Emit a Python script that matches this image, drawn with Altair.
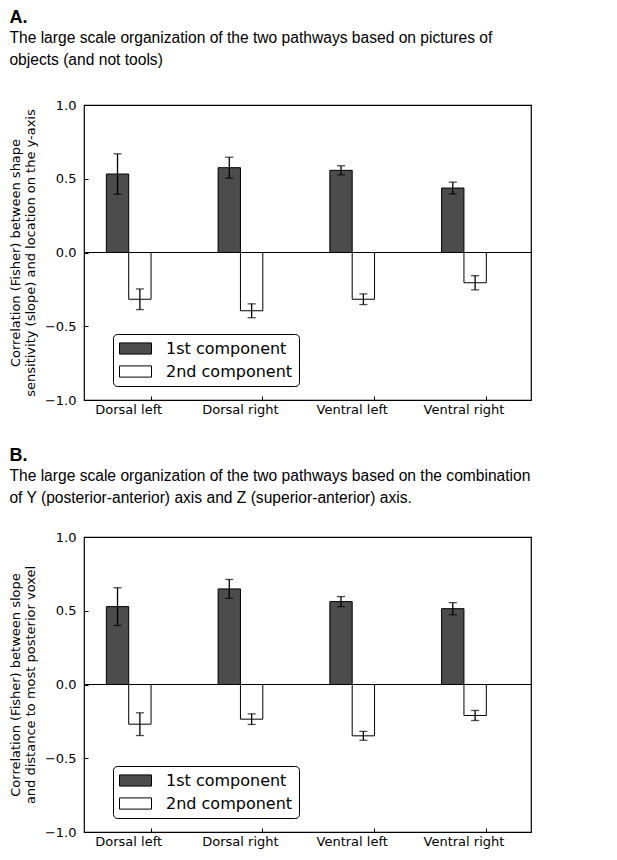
import altair as alt
import pandas as pd

categories = ["Dorsal left", "Dorsal right", "Ventral left", "Ventral right"]
components = ["1st component", "2nd component"]

# Panel A values
a_first = [0.532, 0.575, 0.557, 0.437]
a_first_err = [0.137, 0.071, 0.031, 0.040]
a_second = [-0.317, -0.395, -0.317, -0.205]
a_second_err = [0.070, 0.047, 0.036, 0.048]

# Panel B values
b_first = [0.528, 0.648, 0.562, 0.514]
b_first_err = [0.128, 0.064, 0.034, 0.041]
b_second = [-0.269, -0.235, -0.348, -0.210]
b_second_err = [0.077, 0.036, 0.030, 0.034]

y_ticks = [-1.0, -0.5, 0.0, 0.5, 1.0]

title_a = "A."
subtitle_a = ["The large scale organization of the two pathways based on pictures of",
              "objects (and not tools)"]
ytitle_a = ["Correlation (Fisher) between shape",
            "sensitivity (slope) and location on the y-axis"]

title_b = "B."
subtitle_b = ["The large scale organization of the two pathways based on the combination",
              "of Y (posterior-anterior) axis and Z (superior-anterior) axis."]
ytitle_b = ["Correlation (Fisher) between slope",
            "and distance to most posterior voxel"]


def make_df(first, first_err, second, second_err):
    rows = []
    for comp, vals, errs in ((components[0], first, first_err),
                             (components[1], second, second_err)):
        for c, v, e in zip(categories, vals, errs):
            rows.append({"region": c, "component": comp, "value": v,
                         "lo": v - e, "hi": v + e})
    return pd.DataFrame(rows)


LEGEND_PATH = "M-2,-0.7L2,-0.7L2,0.7L-2,0.7Z"


def panel(df, title, subtitle, ytitle, offset):
    x = alt.X("region:N", sort=categories, title=None,
              scale=alt.Scale(paddingInner=0.6, paddingOuter=0.3, align=1 / 3),
              axis=alt.Axis(bandPosition=1, labelAngle=0, domain=False,
                            tickSize=4, offset=-4, labelPadding=3,
                            tickColor="black", labelColor="black",
                            labelFont="DejaVu Sans", labelFontSize=13))
    xo = alt.XOffset("component:N", sort=components,
                     scale=alt.Scale(paddingInner=0, paddingOuter=0))
    yscale = alt.Scale(domain=[-1, 1], nice=False)
    y = alt.Y("value:Q", scale=yscale,
              axis=alt.Axis(values=y_ticks, format=".1f", grid=False, domain=False,
                            tickSize=4, offset=-4, labelPadding=8,
                            tickColor="black", labelColor="black",
                            labelFont="DejaVu Sans", labelFontSize=13,
                            title=ytitle, titleFont="DejaVu Sans", titleFontSize=13,
                            titleFontWeight="normal", titleColor="black",
                            titlePadding=7, titleLineHeight=15))
    color = alt.Color("component:N", sort=components,
                      scale=alt.Scale(domain=components, range=["#4c4c4c", "#ffffff"]),
                      legend=alt.Legend(orient="none", legendX=29, legendY=229,
                                        title=None, direction="vertical",
                                        fillColor="white", strokeColor="black",
                                        cornerRadius=4, padding=6,
                                        symbolType=LEGEND_PATH, symbolSize=256,
                                        symbolOffset=8,
                                        symbolStrokeColor="black", symbolStrokeWidth=1,
                                        symbolOpacity=1,
                                        labelFont="DejaVu Sans", labelFontSize=16,
                                        labelColor="black", labelOffset=22,
                                        rowPadding=6))
    base = alt.Chart(df)
    bars = base.mark_bar(stroke="black", strokeWidth=1, opacity=1).encode(
        x=x, xOffset=xo, y=y, y2=alt.datum(0), color=color)
    zero = alt.Chart(pd.DataFrame({"z": [0.0]})).mark_rule(
        color="black", strokeWidth=1.2).encode(y=alt.Y("z:Q", scale=yscale))
    err = base.mark_rule(color="black", strokeWidth=1.3).encode(
        x=x, xOffset=xo, y="lo:Q", y2="hi:Q")
    cap_lo = base.mark_tick(color="black", size=8, thickness=1.3).encode(
        x=x, xOffset=xo, y="lo:Q")
    cap_hi = base.mark_tick(color="black", size=8, thickness=1.3).encode(
        x=x, xOffset=xo, y="hi:Q")
    return alt.layer(bars, zero, err, cap_lo, cap_hi).properties(
        width=447, height=295,
        title=alt.TitleParams(title, subtitle=subtitle, anchor="start", frame="bounds",
                              font="Liberation Sans", fontSize=18, fontWeight="bold",
                              color="black", subtitleFont="Liberation Sans",
                              subtitleFontSize=15.6, subtitleColor="black",
                              subtitleLineHeight=22, subtitlePadding=4, offset=offset))


pa = panel(make_df(a_first, a_first_err, a_second, a_second_err),
           title_a, subtitle_a, ytitle_a, 30)
pb = panel(make_df(b_first, b_first_err, b_second, b_second_err),
           title_b, subtitle_b, ytitle_b, 24)

chart = (alt.vconcat(pa, pb, spacing=29)
         .resolve_legend(color="independent")
         .resolve_scale(color="independent")
         .properties(padding=0)
         .configure_view(stroke="black", strokeWidth=1.2))

chart.save("out.html", embed_options={"renderer": "svg", "actions": False})
